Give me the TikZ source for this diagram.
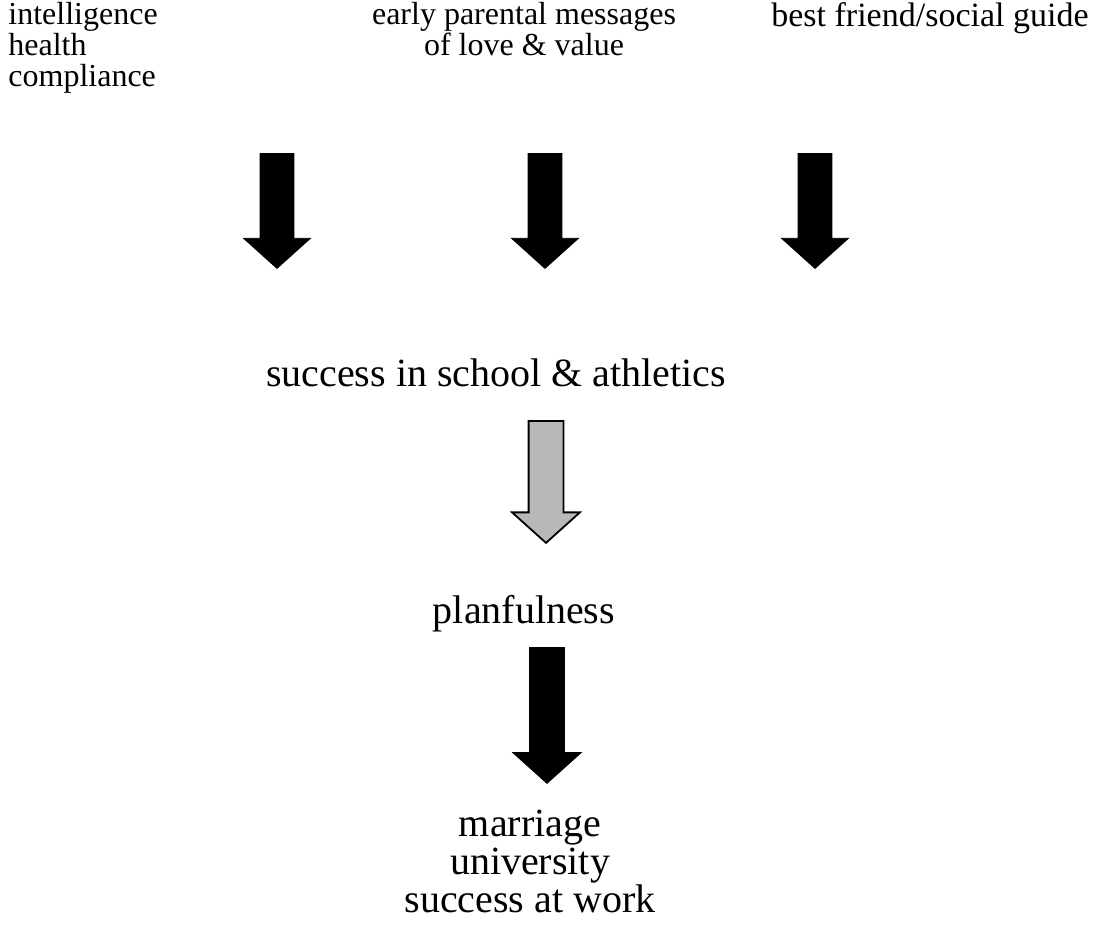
\documentclass[tikz,border=0pt]{standalone}
\usepackage{fontspec}
\setmainfont{Liberation Serif}
\usetikzlibrary{shapes.arrows}

\begin{document}
\begin{tikzpicture}[x=0.5pt,y=-0.5pt,
    small text/.style={inner sep=0pt,font=\fontsize{16}{15.5}\selectfont},
    big text/.style={inner sep=0pt,align=center,font=\fontsize{20}{16}\selectfont},
    down arrow/.style={single arrow,draw=black,fill=black,rotate=-90,anchor=tail,
      inner sep=8.25pt,single arrow head extend=8.25pt,single arrow tip angle=96,
      single arrow head indent=0pt}]

  \useasboundingbox (0,0) rectangle (1094,944);

  % what comes first
  \node[small text,anchor=north west,align=left] (traits) at (8,2) {intelligence\\health\\compliance};
  \node[small text,anchor=north,align=center] (parents) at (524,2) {early parental messages\\of love \& value};
  \node[small text,anchor=north east,font=\fontsize{17}{15.5}\selectfont] (friend) at (1089,2) {best friend/social guide};

  \node[down arrow,minimum height=57.5pt] (arrowA) at (277,153) {};
  \node[down arrow,minimum height=57.5pt] (arrowB) at (545,153) {};
  \node[down arrow,minimum height=57.5pt] (arrowC) at (815,153) {};

  % what follows
  \node[big text,anchor=north] (school) at (496,358) {success in school \& athletics};
  \node[down arrow,fill=black!28,line width=0.9pt,minimum height=61pt] (arrowD) at (546,420) {};
  \node[big text,anchor=north] (plan) at (524,595) {planfulness};
  \node[down arrow,minimum height=68pt,inner sep=8.5pt,single arrow head extend=8.5pt] (arrowE) at (547,647) {};
  \node[big text,anchor=north] (outcomes) at (530,810) {marriage\\university\\success at work};
\end{tikzpicture}
\end{document}
